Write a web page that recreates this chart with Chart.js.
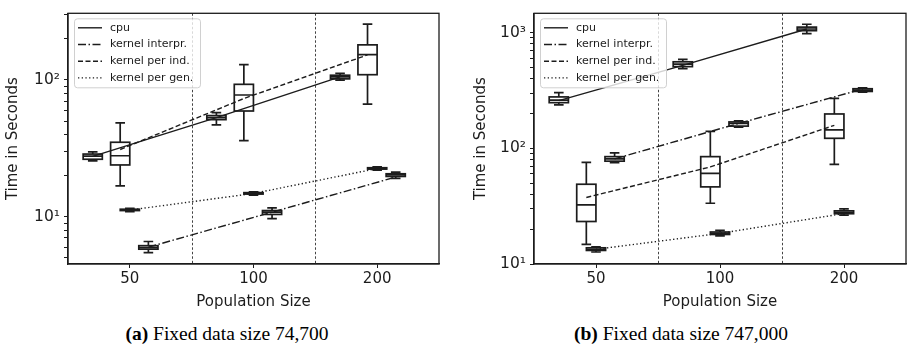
<!DOCTYPE html>
<html>
<head>
<meta charset="utf-8">
<script src="https://cdn.jsdelivr.net/npm/chart.js@4.4.1/dist/chart.umd.min.js"></script>
<style>
  body { margin: 0; background: #fff; width: 908px; height: 357px; overflow: hidden; position: relative; }
  canvas { position: absolute; top: 0; }
  #chartA { left: 0; }
  #chartB { left: 454px; }
  .cap { position: absolute; top: 323px; width: 454px; text-align: center; font-family: "Liberation Serif", serif; font-size: 19.5px; color: #000; }
</style>
</head>
<body>
<canvas id="chartA" width="454" height="316"></canvas>
<canvas id="chartB" width="454" height="316"></canvas>
<div class="cap" style="left:0"><b>(a)</b> Fixed data size 74,700</div>
<div class="cap" style="left:454px"><b>(b)</b> Fixed data size 747,000</div>
<script>
// categories and series
const populationSizes = ['50', '100', '200'];
const seriesNames = ['cpu', 'kernel interpr.', 'kernel per ind.', 'kernel per gen.'];

// box stats [whisker low, q1, median, q3, whisker high] for 50 / 100 / 200
// (a) data size 74,700
const cpuA     = [[25.6, 26.3, 27.7, 28.7, 29.8], [46.9, 51.2, 52.9, 54.8, 57.6], [99.5, 101.6, 105, 108, 111.5]];
const interprA = [[5.48, 5.8, 5.96, 6.15, 6.6], [9.7, 10.4, 10.8, 11.1, 11.6], [19.1, 19.7, 20.2, 20.6, 21.2]];
const perIndA  = [[16.8, 23.9, 27.9, 35.0, 48.5], [36.0, 59.2, 77.5, 92.7, 129], [66.4, 109, 153, 180, 255]];
const perGenA  = [[10.9, 11.1, 11.2, 11.35, 11.5], [14.4, 14.65, 14.8, 15.0, 15.2], [21.9, 22.3, 22.5, 22.8, 23.1]];
// means (lines)
const cpuMeanA     = [27.6, 53, 105];
const interprMeanA = [6.0, 10.8, 19.5];
const perIndMeanA  = [31, 73, 152];
const perGenMeanA  = [11.2, 14.8, 22.5];

// (b) data size 747,000
const cpuB     = [[237, 248, 261, 278, 303], [489, 508, 534, 559, 588], [981, 1039, 1074, 1115, 1180]];
const interprB = [[75, 77.4, 81, 84.7, 91.4], [152, 155.5, 164, 169, 173], [305, 310, 318, 327, 333]];
const perIndB  = [[14.8, 23.3, 32.4, 48.9, 75.5], [33.5, 46.4, 60.7, 84.7, 140], [72.6, 122, 144, 198, 270]];
const perGenB  = [[12.7, 13.1, 13.4, 13.8, 14.1], [17.5, 18.0, 18.4, 18.9, 19.5], [26.4, 27.2, 28.0, 28.8, 30]];
const cpuMeanB     = [258, 520, 1075];
const interprMeanB = [81, 164, 325];
const perIndMeanB  = [37.6, 69, 158];
const perGenMeanB  = [13.4, 18.4, 27.3];

// drawing settings
const seriesOffsets = [-0.3, 0.15, -0.078, 0];
const lineDashes = [[], [8, 2.5, 1.5, 2.5], [5, 2.5], [1.3, 2.4]];
const BOX_W = 0.155;
const INK = '#1c1c1c';
const SUP = { 1: '¹', 2: '²', 3: '³' };

function logTicks(min, max) {
  const out = [];
  for (let e = Math.floor(Math.log10(min)); e <= Math.ceil(Math.log10(max)); e++) {
    for (let k = 1; k < 10; k++) {
      const v = k * Math.pow(10, e);
      if (v >= min * 0.999 && v <= max * 1.001) out.push(v);
    }
  }
  return out;
}

const boxPlugin = {
  id: 'boxes',
  beforeDatasetsDraw(chart) {
    const { ctx, chartArea: a, scales: { x, y } } = chart;
    const stats = chart.options.plugins.boxes.stats;
    ctx.save();
    ctx.beginPath();
    ctx.rect(a.left, a.top, a.right - a.left, a.bottom - a.top);
    ctx.clip();
    // separators between population sizes
    ctx.strokeStyle = '#444';
    ctx.lineWidth = 1;
    ctx.setLineDash([2.5, 2]);
    [0.5, 1.5].forEach(v => {
      const px = Math.round(x.getPixelForValue(v)) + 0.5;
      ctx.beginPath();
      ctx.moveTo(px, a.top);
      ctx.lineTo(px, a.bottom);
      ctx.stroke();
    });
    ctx.setLineDash([]);
    ctx.strokeStyle = INK;
    ctx.fillStyle = '#fff';
    ctx.lineWidth = 1.7;
    const hw = (x.getPixelForValue(BOX_W) - x.getPixelForValue(0)) / 2;
    stats.forEach((series, s) => {
      series.forEach((st, i) => {
        const cx = x.getPixelForValue(i + seriesOffsets[s]);
        const [lo, q1, med, q3, hi] = st.map(v => y.getPixelForValue(v));
        ctx.fillRect(cx - hw, q3, 2 * hw, q1 - q3);
        ctx.strokeRect(cx - hw, q3, 2 * hw, q1 - q3);
        ctx.beginPath();
        ctx.moveTo(cx, q3); ctx.lineTo(cx, hi);
        ctx.moveTo(cx, q1); ctx.lineTo(cx, lo);
        ctx.moveTo(cx - hw / 2, hi); ctx.lineTo(cx + hw / 2, hi);
        ctx.moveTo(cx - hw / 2, lo); ctx.lineTo(cx + hw / 2, lo);
        ctx.moveTo(cx - hw, med); ctx.lineTo(cx + hw, med);
        ctx.stroke();
      });
    });
    ctx.restore();
  },
  afterDraw(chart) {
    const { ctx, chartArea: a } = chart;
    ctx.save();
    // full frame
    ctx.strokeStyle = INK;
    ctx.lineWidth = 1.3;
    ctx.strokeRect(a.left, a.top, a.right - a.left, a.bottom - a.top);
    // legend
    const lx = a.left + 6, ly = a.top + 5, lw = 126, lh = 69;
    ctx.fillStyle = 'rgba(255,255,255,0.8)';
    ctx.strokeStyle = '#d0d0d0';
    ctx.lineWidth = 1;
    ctx.beginPath();
    ctx.roundRect(lx + 0.5, ly + 0.5, lw, lh, 3);
    ctx.fill();
    ctx.stroke();
    ctx.font = '11px "DejaVu Sans"';
    ctx.textBaseline = 'middle';
    seriesNames.forEach((name, s) => {
      const ry = ly + 9.5 + s * 16.7;
      ctx.strokeStyle = INK;
      ctx.lineWidth = 1.4;
      ctx.setLineDash(lineDashes[s]);
      ctx.beginPath();
      ctx.moveTo(lx + 4, ry);
      ctx.lineTo(lx + 28, ry);
      ctx.stroke();
      ctx.setLineDash([]);
      ctx.fillStyle = INK;
      ctx.fillText(name, lx + 36, ry);
    });
    ctx.restore();
  }
};

function makeChart(id, stats, means, yMin, yMax, yWidth, yTitlePad, padRight) {
  const datasets = means.map((m, s) => ({
    label: seriesNames[s],
    data: m.map((v, i) => ({ x: i + seriesOffsets[s], y: v })),
    borderColor: INK,
    borderWidth: 1.4,
    borderDash: lineDashes[s],
    pointRadius: 0,
    fill: false,
    tension: 0
  }));
  return new Chart(document.getElementById(id).getContext('2d'), {
    type: 'line',
    data: { datasets },
    options: {
      responsive: false,
      animation: false,
      layout: { padding: { top: 4, right: padRight, left: 0, bottom: 0 } },
      plugins: {
        legend: { display: false },
        tooltip: { enabled: false },
        boxes: { stats }
      },
      scales: {
        x: {
          type: 'linear',
          min: -0.5,
          max: 2.5,
          afterBuildTicks: axis => { axis.ticks = populationSizes.map((_, i) => ({ value: i })); },
          afterFit: axis => { axis.height = 52; },
          ticks: {
            autoSkip: false,
            callback: v => populationSizes[v],
            font: { family: 'DejaVu Sans', size: 15 },
            color: INK,
            padding: 2
          },
          grid: { drawOnChartArea: false, tickLength: 4, tickColor: INK },
          border: { color: INK, width: 1.3 },
          title: {
            display: true,
            text: 'Population Size',
            font: { family: 'DejaVu Sans', size: 15 },
            color: INK,
            padding: { top: 0, bottom: 5 }
          }
        },
        y: {
          type: 'logarithmic',
          min: yMin,
          max: yMax,
          afterBuildTicks: axis => { axis.ticks = logTicks(yMin, yMax).map(v => ({ value: v })); },
          afterFit: axis => { axis.width = yWidth; },
          ticks: {
            autoSkip: false,
            callback: v => {
              const e = Math.log10(v);
              return Math.abs(e - Math.round(e)) < 1e-9 ? '10' + SUP[Math.round(e)] : '';
            },
            font: { family: 'DejaVu Sans', size: 15.5 },
            color: INK,
            padding: 4
          },
          grid: { drawOnChartArea: false, tickLength: 4, tickColor: INK },
          border: { color: INK, width: 1.3 },
          title: {
            display: true,
            text: 'Time in Seconds',
            font: { family: 'DejaVu Sans', size: 15 },
            color: INK,
            padding: { top: yTitlePad, bottom: 0 }
          }
        }
      }
    },
    plugins: [boxPlugin]
  });
}

makeChart('chartA',
  [cpuA, interprA, perIndA, perGenA],
  [cpuMeanA, interprMeanA, perIndMeanA, perGenMeanA],
  4.52, 306, 68, 4, 15);
makeChart('chartB',
  [cpuB, interprB, perIndB, perGenB],
  [cpuMeanB, interprMeanB, perIndMeanB, perGenMeanB],
  10, 1468, 80, 18, 2);
</script>
</body>
</html>
